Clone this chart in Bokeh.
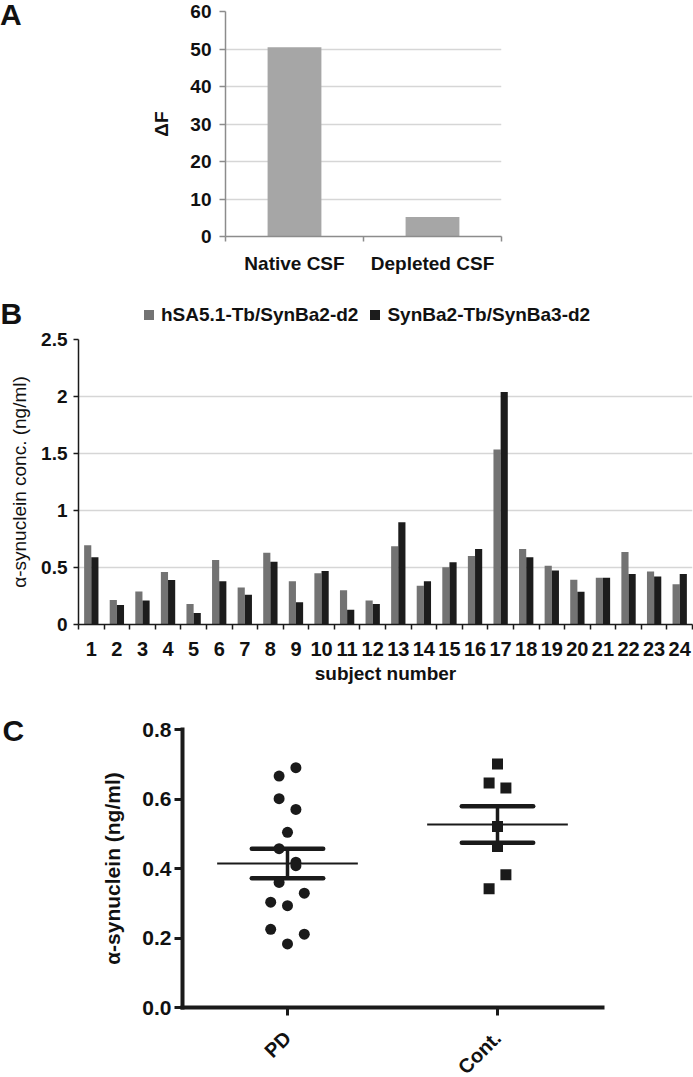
import math
import numpy as np
from bokeh.plotting import figure
from bokeh.layouts import row
from bokeh.models import (FixedTicker, Legend, LegendItem, Range1d, Label, Div,
                          CustomJSTickFormatter, NumeralTickFormatter)
from bokeh.embed import file_html
from bokeh.resources import INLINE

FONT = "Liberation Sans"

# ---------------- data ----------------
# Panel A
a_categories = ["Native CSF", "Depleted CSF"]
a_values = [50.5, 5.2]
a_yticks = [0, 10, 20, 30, 40, 50, 60]

# Panel B
b_subjects = list(range(1, 25))
b_series1_name = "hSA5.1-Tb/SynBa2-d2"
b_series2_name = "SynBa2-Tb/SynBa3-d2"
b_series1 = [0.695, 0.216, 0.29, 0.46, 0.18, 0.565, 0.325, 0.63, 0.38, 0.45, 0.30, 0.21,
             0.686, 0.34, 0.503, 0.60, 1.535, 0.663, 0.515, 0.393, 0.41, 0.636, 0.464, 0.352]
b_series2 = [0.59, 0.17, 0.21, 0.39, 0.10, 0.38, 0.26, 0.55, 0.195, 0.47, 0.13, 0.18,
             0.896, 0.38, 0.547, 0.663, 2.04, 0.59, 0.473, 0.287, 0.41, 0.444, 0.42, 0.444]
b_yticks = [0, 0.5, 1, 1.5, 2, 2.5]

# Panel C
c_groups = ["PD", "Cont."]
c_pd_values = [0.690, 0.666, 0.601, 0.570, 0.504, 0.457, 0.418, 0.408, 0.360, 0.329,
               0.303, 0.293, 0.225, 0.211, 0.183]
c_pd_jitter = [0.04, -0.04, -0.04, 0.04, 0.0, -0.04, 0.04, 0.04, -0.04, 0.08,
               -0.08, 0.0, -0.08, 0.08, 0.0]
c_cont_values = [0.701, 0.646, 0.632, 0.521, 0.463, 0.382, 0.342]
c_cont_jitter = [0.0, -0.04, 0.04, 0.0, 0.0, 0.04, -0.04]
c_yticks = [0, 0.2, 0.4, 0.6, 0.8]

W = 693
LW = 25
TXT = "#111111"
GRAY_B = "#737373"
BLACK_B = "#1c1c1c"
DARK = "#1a1a1a"


def style_common(p):
    p.outline_line_color = None
    p.background_fill_color = "white"
    p.border_fill_color = "white"


def letter_div(text):
    html = ('<div style="font-family: \'Liberation Sans\', Arial, sans-serif; font-weight: bold; '
            'font-size: 30px; line-height: 30px; color: #111111; margin: 0; padding: 0;">%s</div>'
            % text)
    return Div(text=html, width=LW, height=34, margin=0)


def style_axis(ax, color, lw, font_size):
    ax.axis_line_color = color
    ax.axis_line_width = lw
    ax.major_tick_line_color = color
    ax.minor_tick_line_color = color
    ax.major_tick_line_width = lw
    ax.minor_tick_line_width = lw
    ax.major_tick_in = 0
    ax.minor_tick_in = 0
    ax.major_label_text_font = FONT
    ax.major_label_text_font_style = "bold"
    ax.major_label_text_font_size = font_size
    ax.major_label_text_color = TXT
    ax.axis_label_text_font = FONT
    ax.axis_label_text_color = TXT


def bare_figure(width, height, x_range, y_range, left=0, right=0):
    f = figure(width=width, height=height, x_range=x_range, y_range=y_range,
               x_axis_type=None, y_axis_type=None, output_backend="svg", toolbar_location=None,
               min_border=0, min_border_left=left, min_border_right=right,
               min_border_top=0, min_border_bottom=0)
    style_common(f)
    f.xgrid.visible = False
    f.ygrid.visible = False
    return f


# ---------------- Panel A ----------------
pA = figure(width=W - LW, height=276, x_range=Range1d(-0.5, 1.5), y_range=Range1d(0, 60),
            output_backend="svg", toolbar_location=None,
            min_border_left=225 - LW, min_border_right=192, min_border_top=11, min_border_bottom=36)
style_common(pA)
pA.vbar(x=list(range(len(a_categories))), top=a_values, width=0.39,
        fill_color="#a6a6a6", line_color=None)
pA.xgrid.grid_line_color = None
pA.ygrid.grid_line_color = "#d6d6d6"
pA.ygrid.grid_line_width = 1.5
pA.yaxis.ticker = FixedTicker(ticks=a_yticks)
pA.xaxis.ticker = FixedTicker(ticks=[0, 1], minor_ticks=[-0.5, 0.5, 1.5])
pA.xaxis.major_label_overrides = {i: c for i, c in enumerate(a_categories)}
for ax in (pA.xaxis[0], pA.yaxis[0]):
    style_axis(ax, "#8c8c8c", 1.5, "19px")
pA.xaxis.major_tick_out = 0
pA.xaxis.minor_tick_out = 5
pA.xaxis.major_label_standoff = 11
pA.yaxis.major_tick_out = 6
pA.yaxis.minor_tick_out = 0
pA.yaxis.major_label_standoff = 8
pA.yaxis.axis_label = "ΔF"
pA.yaxis.axis_label_text_font_style = "bold"
pA.yaxis.axis_label_text_font_size = "19px"
pA.yaxis.axis_label_standoff = 15
rowA = row(letter_div("A"), pA, spacing=0)

# ---------------- Panel B header (letter + legend) ----------------
HB = 53
hB = bare_figure(W, HB, Range1d(0, W), Range1d(0, HB))
hB.add_layout(Label(x=0, y=HB - 36.5, text="B", text_font=FONT, text_font_style="bold",
                    text_font_size="30px", text_color=TXT, text_align="left", text_baseline="middle"))
# legend swatches: renderers whose single point lies outside the visible range
lg1 = hB.scatter(x=[-100], y=[-100], marker="square", size=10, fill_color=GRAY_B, line_color=None)
lg2 = hB.scatter(x=[-100], y=[-100], marker="square", size=10, fill_color=BLACK_B, line_color=None)
legend = Legend(items=[LegendItem(label=b_series1_name, renderers=[lg1]),
                       LegendItem(label=b_series2_name, renderers=[lg2])],
                location=(136, 2), orientation="horizontal", padding=0, margin=0,
                spacing=4, glyph_width=25, glyph_height=25, label_standoff=0,
                label_text_font=FONT, label_text_font_style="bold",
                label_text_font_size="19px", label_text_color=TXT,
                border_line_color=None, background_fill_alpha=0)
hB.add_layout(legend)

# ---------------- Panel B ----------------
pB = figure(width=W, height=361, x_range=Range1d(0.5, 24.5), y_range=Range1d(0, 2.5),
            output_backend="svg", toolbar_location=None,
            min_border_left=78, min_border_right=1, min_border_top=10, min_border_bottom=66)
style_common(pB)
subj = np.array(b_subjects, dtype=float)
pB.vbar(x=subj - 0.14, top=b_series1, width=0.28, fill_color=GRAY_B, line_color=None)
pB.vbar(x=subj + 0.14, top=b_series2, width=0.28, fill_color=BLACK_B, line_color=None)
pB.xgrid.grid_line_color = None
pB.ygrid.grid_line_color = "#d6d6d6"
pB.ygrid.grid_line_width = 1.5
pB.yaxis.ticker = FixedTicker(ticks=b_yticks)
pB.yaxis.formatter = CustomJSTickFormatter(code="return String(Math.round(tick*10)/10);")
pB.xaxis.ticker = FixedTicker(ticks=b_subjects,
                              minor_ticks=[s - 0.5 for s in b_subjects] + [b_subjects[-1] + 0.5])
for ax in (pB.xaxis[0], pB.yaxis[0]):
    style_axis(ax, "#1a1a1a", 1.5, "19px")
pB.xaxis.major_label_text_font_size = "20px"
pB.xaxis.major_tick_out = 0
pB.xaxis.minor_tick_out = 5
pB.xaxis.major_label_standoff = 12
pB.yaxis.major_tick_out = 5
pB.yaxis.minor_tick_out = 0
pB.yaxis.major_label_standoff = 6
pB.xaxis.axis_label = "subject number"
pB.xaxis.axis_label_text_font_style = "bold"
pB.xaxis.axis_label_text_font_size = "19px"
pB.xaxis.axis_label_standoff = 4
pB.yaxis.axis_label = "α-synuclein conc. (ng/ml)"
pB.yaxis.axis_label_text_font_style = "normal"
pB.yaxis.axis_label_text_font_size = "19px"
pB.yaxis.axis_label_standoff = 8

# ---------------- Panel C ----------------
c_xrange = Range1d(-0.5, 1.5)
pC = figure(width=W, height=329, x_range=c_xrange, y_range=Range1d(0, 0.8),
            output_backend="svg", toolbar_location=None,
            min_border_left=182, min_border_right=91, min_border_top=39, min_border_bottom=12)
style_common(pC)
# panel letter "C" as the plot title, pulled left of the frame and down beside the top tick
pC.title.text = "C"
pC.title.align = "left"
pC.title.offset = -180
pC.title.standoff = -34
pC.title.text_font = FONT
pC.title.text_font_style = "bold"
pC.title.text_font_size = "30px"
pC.title.text_color = TXT
pC.xgrid.grid_line_color = None
pC.ygrid.grid_line_color = None
groups_vals = [c_pd_values, c_cont_values]
means = [float(np.mean(v)) for v in groups_vals]
sems = [float(np.std(v, ddof=1) / math.sqrt(len(v))) for v in groups_vals]
gx = np.arange(len(c_groups), dtype=float)
upper = [m + s for m, s in zip(means, sems)]
lower = [m - s for m, s in zip(means, sems)]
pC.segment(x0=gx - 0.335, x1=gx + 0.335, y0=means, y1=means, line_color=DARK, line_width=2)
pC.segment(x0=gx - 0.17, x1=gx + 0.17, y0=upper, y1=upper, line_color=DARK, line_width=4.5, line_cap="round")
pC.segment(x0=gx - 0.17, x1=gx + 0.17, y0=lower, y1=lower, line_color=DARK, line_width=4.5, line_cap="round")
pC.segment(x0=gx, x1=gx, y0=lower, y1=upper, line_color=DARK, line_width=3.5)
pC.scatter(x=gx[0] + np.array(c_pd_jitter), y=c_pd_values, marker="circle", size=11,
           fill_color=DARK, line_color=None)
pC.scatter(x=gx[1] + np.array(c_cont_jitter), y=c_cont_values, marker="square", size=11,
           fill_color=DARK, line_color=None)
pC.yaxis.ticker = FixedTicker(ticks=c_yticks)
pC.yaxis.formatter = NumeralTickFormatter(format="0.0")
pC.xaxis.ticker = FixedTicker(ticks=list(gx))
pC.xaxis.major_label_overrides = {i: "" for i in range(len(c_groups))}
pC.xaxis.major_label_standoff = 0
for ax in (pC.xaxis[0], pC.yaxis[0]):
    style_axis(ax, DARK, 4, "21px")
    ax.axis_line_cap = "square"
    ax.major_tick_line_width = 3
    ax.major_tick_out = 8
    ax.minor_tick_line_color = None
pC.yaxis.major_label_standoff = 3
pC.yaxis.axis_label = "α-synuclein (ng/ml)"
pC.yaxis.axis_label_text_font_style = "bold"
pC.yaxis.axis_label_text_font_size = "21px"
pC.yaxis.axis_label_standoff = 15

# category labels of panel C, rotated 45 degrees, in a strip under the axis
HF = 58
fC = bare_figure(W, HF, c_xrange, Range1d(0, HF), left=182, right=91)
for i, g in enumerate(c_groups):
    fC.add_layout(Label(x=gx[i], y=HF - 15, text=g, angle=math.pi / 4, text_align="right",
                        text_baseline="middle", text_font=FONT, text_font_style="bold",
                        text_font_size="20px", text_color=TXT))

open("out.html", "w").write(file_html([rowA, hB, pB, pC, fC], INLINE))
